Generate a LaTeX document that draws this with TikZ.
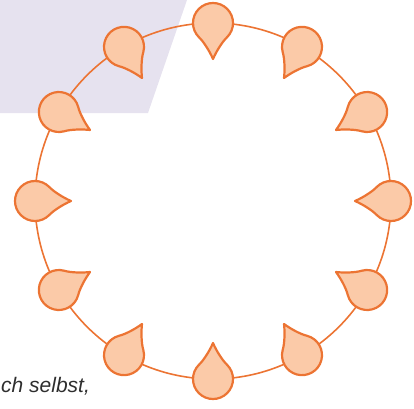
\documentclass[tikz,border=0pt]{standalone}
\usepackage{fontspec}
\setsansfont{Liberation Sans}
\usetikzlibrary{calc}
\definecolor{colRing}{HTML}{EC7433}
\definecolor{colDrop}{HTML}{FBCAA8}
\definecolor{colPanel}{HTML}{E6E2EF}
\definecolor{colText}{HTML}{2E2E2E}

\begin{document}
\begin{tikzpicture}[
  x=1pt, y=1pt,
  ring/.style={draw=colRing, line width=1.6pt},
  dropline/.style={draw=colRing, fill=colDrop, line width=2.2pt, line join=round},
  drop/.pic={
    \path[dropline] (36,0) .. controls (29,3) and (19,9) .. (45:20)
      arc[start angle=45, end angle=315, radius=20]
      .. controls (19,-9) and (29,-3) .. (36,0) -- cycle;
  },
]
\useasboundingbox (0,0) rectangle (414,408);

%% ============================================================
%% Background panel
%% ============================================================
\fill[colPanel] (0,408) -- (187,408) -- (148,295) -- (0,295) -- cycle;

%% ============================================================
%% Ring and drops
%% ============================================================
\coordinate (centre) at (213,207);
\draw[ring] (centre) circle[radius=178];

\foreach \ang [count=\i] in {90,60,...,-240}
  \pic[rotate=\ang+180] (drop\i) at ($(centre)+(\ang:178)$) {drop};

%% ============================================================
%% Text
%% ============================================================
\node[anchor=base west, inner sep=0pt, text=colText,
      font=\sffamily\itshape\fontsize{21}{24}\selectfont]
  (caption) at (1,16) {ch selbst,};

\end{tikzpicture}
\end{document}
